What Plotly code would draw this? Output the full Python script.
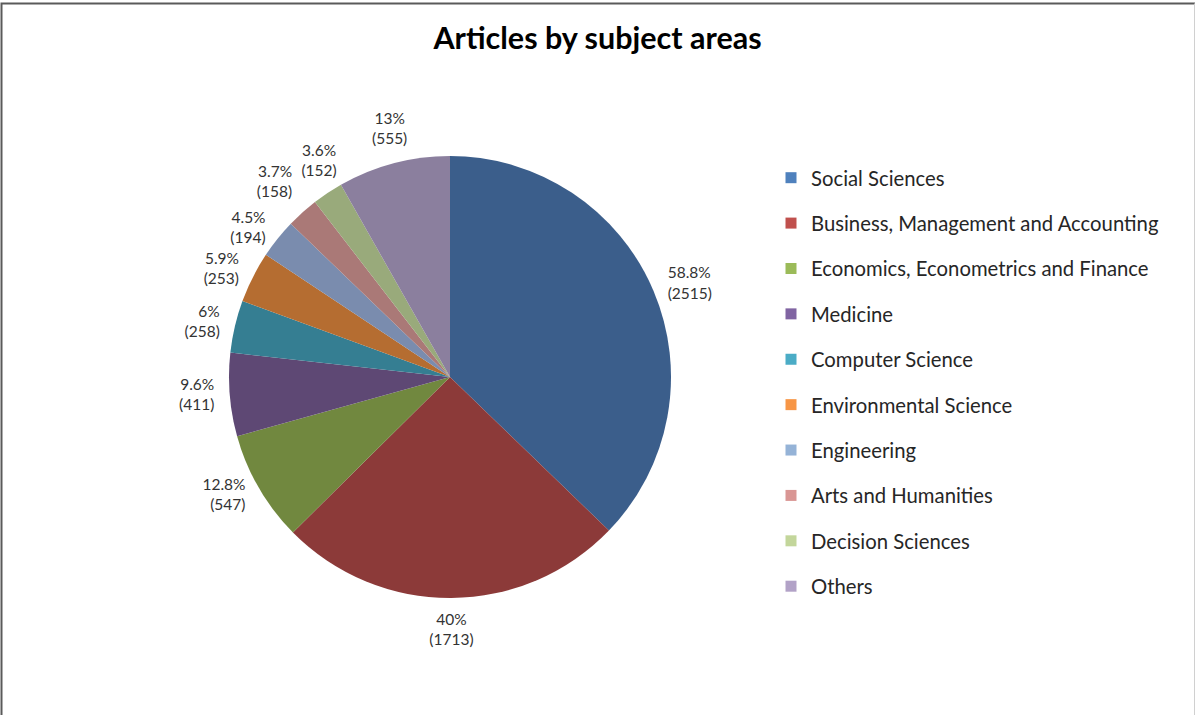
import numpy as np
import plotly.graph_objects as go

categories = ["Social Sciences", "Business, Management and Accounting",
              "Economics, Econometrics and Finance", "Medicine", "Computer Science",
              "Environmental Science", "Engineering", "Arts and Humanities",
              "Decision Sciences", "Others"]
counts = [2515, 1713, 547, 411, 258, 253, 194, 158, 152, 555]
percent_labels = ["58.8%", "40%", "12.8%", "9.6%", "6%", "5.9%", "4.5%", "3.7%", "3.6%", "13%"]

slice_colors = ["#3B5E8B", "#8C3A39", "#71883F", "#5E4874", "#357E92",
                "#B56D31", "#7A8CAE", "#AA7977", "#99AA7B", "#8B7F9E"]
legend_colors = ["#4F81BD", "#C0504D", "#9BBB59", "#8064A2", "#4BACC6",
                 "#F79646", "#95B3D7", "#D99694", "#C3D69B", "#B2A2C7"]

W, H = 1195, 715
cx, cy, r = 450, 377, 221
RMAX = 1.3  # polar radial range, in units of the pie radius
pie_dom = dict(x=[(cx - r) / W, (cx + r) / W], y=[(H - cy - r) / H, (H - cy + r) / H])
R2 = r * RMAX
polar_dom = dict(x=[(cx - R2) / W, (cx + R2) / W], y=[(H - cy - R2) / H, (H - cy + R2) / H])

# mid-angle of each slice (degrees clockwise from 12 o'clock), from the data
vals = np.array(counts, dtype=float)
mid_angles = (np.cumsum(vals) - vals / 2) / vals.sum() * 360.0


def label_pos(a):
    if 20 <= a < 160:
        return "middle right"
    if 160 <= a < 200:
        return "bottom center"
    if 200 <= a < 312:
        return "middle left"
    if 312 <= a < 322:
        return "top left"
    return "top center"


fig = go.Figure()
fig.add_trace(go.Pie(
    labels=categories, values=counts, textinfo="none",
    sort=False, direction="clockwise", rotation=0,
    marker=dict(colors=slice_colors, line=dict(width=0)),
    showlegend=False, hoverinfo="label+value", domain=pie_dom,
))
fig.add_trace(go.Scatterpolar(
    r=[1.07] * len(counts), theta=list(mid_angles), mode="text",
    text=[f"{p}<br>({c})" for p, c in zip(percent_labels, counts)],
    textposition=[label_pos(a) for a in mid_angles],
    textfont=dict(family="Lato", size=15.5, color="#333333"),
    cliponaxis=False, showlegend=False, hoverinfo="skip",
))
for i, (name, col) in enumerate(zip(categories, legend_colors)):
    fig.add_trace(go.Scatterpolar(
        r=[None], theta=[None], mode="markers", name=name, legendgroup=f"g{i}",
        marker=dict(symbol="square", size=11, color=col),
    ))

fig.update_layout(
    width=W, height=H, paper_bgcolor="white", plot_bgcolor="white",
    margin=dict(l=0, r=0, t=0, b=0),
    polar=dict(domain=polar_dom, bgcolor="rgba(0,0,0,0)",
               angularaxis=dict(rotation=90, direction="clockwise", visible=False),
               radialaxis=dict(range=[0, RMAX], visible=False)),
    title=dict(text="<b>Articles by subject areas</b>", x=0.5, xanchor="center",
               y=1 - 38 / H, yanchor="middle",
               font=dict(family="Lato", size=30.5, color="#000000")),
    legend=dict(x=771 / W, xanchor="left", y=1 - 158 / H, yanchor="top",
                font=dict(family="Lato", size=20.3, color="#262626"),
                tracegroupgap=16, bgcolor="rgba(0,0,0,0)"),
    shapes=[dict(type="rect", xref="paper", yref="paper",
                 x0=1.5 / W, x1=1.2, y0=-0.2, y1=1 - 3.5 / H,
                 line=dict(color="#5a5a5a", width=2)),
            dict(type="line", xref="paper", yref="paper",
                 x0=1194.5 / W, x1=1194.5 / W, y0=0, y1=1 - 3.5 / H,
                 line=dict(color="#d0d0d0", width=1))],
)
fig.write_html("out.html")
